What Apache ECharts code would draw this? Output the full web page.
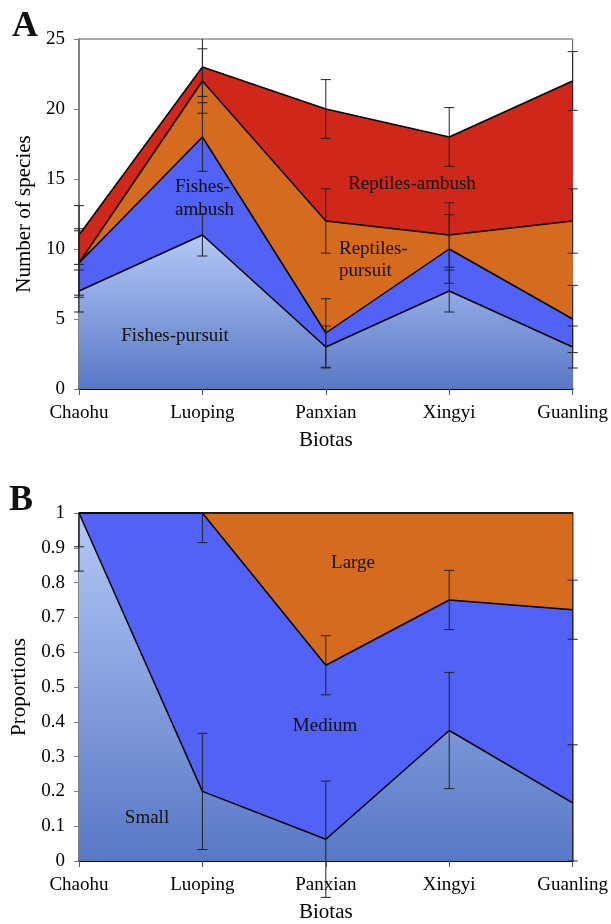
<!DOCTYPE html>
<html>
<head>
<meta charset="utf-8">
<script src="https://cdn.jsdelivr.net/npm/echarts@6/dist/echarts.min.js"></script>
<style>html,body{margin:0;padding:0;background:#fff;}#c{width:611px;height:924px;}</style>
</head>
<body>
<div id="c"></div>
<script>
// ---- Data ----
const biotas = ['Chaohu', 'Luoping', 'Panxian', 'Xingyi', 'Guanling'];

// Panel A: number of species per group (stacked)
const fishesPursuit   = [7, 11, 3, 7, 3];
const fishesAmbush    = [2, 7, 1, 3, 2];
const reptilesPursuit = [0, 4, 8, 1, 7];
const reptilesAmbush  = [2, 1, 8, 7, 10];
// error (± on the stacked total)
const fishesPursuitErr   = [1.5, 1.5, 1.5, 1.5, 1.5];
const fishesAmbushErr    = [2.45, 2.45, 2.45, 2.45, 2.4];
const reptilesPursuitErr = [2.3, 2.3, 2.3, 2.3, 2.3];
const reptilesAmbushErr  = [2.1, 2.1, 2.1, 2.1, 2.1];
const yTicksA = { min: 0, max: 25, interval: 5 };

// Panel B: proportions by size (stacked)
const small  = [1, 0.2, 0.0625, 0.375, 0.167];
const medium = [0, 0.8, 0.5, 0.375, 0.555];
const large  = [0, 0, 0.4375, 0.25, 0.278];
const smallErr  = [0.167, 0.167, 0.167, 0.167, 0.167];
const mediumErr = [0.097, 0.085, 0.085, 0.085, 0.085];
const yTicksB = { min: 0, max: 1, interval: 0.1 };

// ---- Helpers ----
function cumulative(...arrs) {
  return arrs[0].map((_, i) => arrs.reduce((s, a) => s + a[i], 0));
}
function errData(cum, err) {
  return cum.map((v, i) => [i, v, err[i]]);
}

const FONT = '"Liberation Serif", "Times New Roman", serif';
const cFPtop = '#b4c8f7', cFPbot = '#5878c5';
const cFA = '#5262f5', cRP = '#d56b1f', cRA = '#cf281b';

function gradient() {
  return new echarts.graphic.LinearGradient(0, 0, 0, 1, [
    { offset: 0, color: cFPtop }, { offset: 1, color: cFPbot }
  ]);
}

function errSeries(data, xi, yi, ymax) {
  return {
    type: 'custom', xAxisIndex: xi, yAxisIndex: yi, clip: false, z: 10,
    silent: true,
    encode: { x: 0, y: 1 },
    data: data,
    renderItem: function (params, api) {
      const x = api.value(0), v = api.value(1), e = api.value(2);
      const hiV = Math.min(v + e, ymax);
      const hi = api.coord([x, hiV]);
      const lo = api.coord([x, v - e]);
      const hw = 5;
      const st = { stroke: '#222', lineWidth: 1 };
      const children = [
        { type: 'line', shape: { x1: hi[0], y1: hi[1], x2: lo[0], y2: lo[1] }, style: st },
        { type: 'line', shape: { x1: lo[0] - hw, y1: lo[1], x2: lo[0] + hw, y2: lo[1] }, style: st }
      ];
      if (v + e <= ymax) {
        children.push({ type: 'line', shape: { x1: hi[0] - hw, y1: hi[1], x2: hi[0] + hw, y2: hi[1] }, style: st });
      }
      return { type: 'group', children: children };
    }
  };
}

function areaSeries(name, data, xi, yi, stack, color) {
  return {
    name: name, type: 'line', xAxisIndex: xi, yAxisIndex: yi, stack: stack,
    data: data, symbol: 'none', smooth: false,
    lineStyle: { color: '#000', width: 1.5 },
    areaStyle: { color: color, opacity: 1 },
    z: 2
  };
}

const cumFP = cumulative(fishesPursuit);
const cumFA = cumulative(fishesPursuit, fishesAmbush);
const cumRP = cumulative(fishesPursuit, fishesAmbush, reptilesPursuit);
const cumRA = cumulative(fishesPursuit, fishesAmbush, reptilesPursuit, reptilesAmbush);
const cumS = cumulative(small);
const cumM = cumulative(small, medium);

const axisLabel = { color: '#000', fontFamily: FONT, fontSize: 19 };
const nameStyle = { color: '#000', fontFamily: FONT, fontSize: 21 };

function xAxisCfg(gi) {
  return {
    type: 'category', gridIndex: gi, data: biotas, boundaryGap: false,
    name: 'Biotas', nameLocation: 'middle', nameGap: 41, nameTextStyle: nameStyle,
    axisLine: { show: true, lineStyle: { color: '#000', width: 2 } },
    axisTick: { show: true, length: 6, lineStyle: { color: '#555', width: 1 } },
    axisLabel: Object.assign({ margin: 15 }, axisLabel),
    splitLine: { show: false }
  };
}
function yAxisCfg(gi, t, name) {
  return {
    type: 'value', gridIndex: gi, min: t.min, max: t.max, interval: t.interval,
    name: name, nameLocation: 'middle', nameGap: 43, nameRotate: 90, nameTextStyle: nameStyle,
    axisLine: { show: true, lineStyle: { color: '#808080', width: 2 } },
    axisTick: { show: true, length: 5, lineStyle: { color: '#808080', width: 1 } },
    axisLabel: Object.assign({ margin: 14 }, axisLabel),
    splitLine: { show: false }
  };
}

function txt(text, x, y, align, size, bold, lh) {
  return {
    type: 'text', z: 20, silent: true,
    style: {
      text: text, x: x, y: y, fill: '#111',
      font: (bold ? 'bold ' : '') + size + 'px ' + FONT,
      align: align, verticalAlign: 'middle', lineHeight: lh || size + 3
    }
  };
}

const option = {
  animation: false,
  backgroundColor: '#fff',
  grid: [
    { left: 79, top: 39, width: 496, height: 350, show: true, borderColor: '#555', borderWidth: 1, backgroundColor: 'transparent' },
    { left: 79, top: 513, width: 496, height: 351, show: true, borderColor: '#000', borderWidth: 1.5, backgroundColor: 'transparent' }
  ],
  xAxis: [xAxisCfg(0), xAxisCfg(1)],
  yAxis: [yAxisCfg(0, yTicksA, 'Number of species'), yAxisCfg(1, yTicksB, 'Proportions')],
  series: [
    areaSeries('Fishes-pursuit', fishesPursuit, 0, 0, 'A', gradient()),
    areaSeries('Fishes-ambush', fishesAmbush, 0, 0, 'A', cFA),
    areaSeries('Reptiles-pursuit', reptilesPursuit, 0, 0, 'A', cRP),
    areaSeries('Reptiles-ambush', reptilesAmbush, 0, 0, 'A', cRA),
    errSeries(errData(cumFP, fishesPursuitErr), 0, 0, yTicksA.max),
    errSeries(errData(cumFA, fishesAmbushErr), 0, 0, yTicksA.max),
    errSeries(errData(cumRP, reptilesPursuitErr), 0, 0, yTicksA.max),
    errSeries(errData(cumRA, reptilesAmbushErr), 0, 0, yTicksA.max),

    areaSeries('Small', small, 1, 1, 'B', gradient()),
    areaSeries('Medium', medium, 1, 1, 'B', cFA),
    areaSeries('Large', large, 1, 1, 'B', cRP),
    errSeries(errData(cumS, smallErr), 1, 1, yTicksB.max),
    errSeries(errData(cumM, mediumErr), 1, 1, yTicksB.max)
  ],
  graphic: [
    txt('A', 25, 27, 'center', 36, true),
    txt('B', 21, 501, 'center', 36, true),
    txt('Fishes-pursuit', 175, 336, 'center', 19),
    txt('Fishes-\nambush', 175, 199, 'left', 19, false, 23),
    txt('Reptiles-ambush', 412, 184, 'center', 19),
    txt('Reptiles-\npursuit', 339, 260, 'left', 19, false, 22),
    txt('Large', 353, 563, 'center', 19),
    txt('Medium', 325, 726, 'center', 19),
    txt('Small', 147, 818, 'center', 19)
  ]
};

const chart = echarts.init(document.getElementById('c'), null, { renderer: 'canvas' });
chart.setOption(option);
</script>
</body>
</html>
